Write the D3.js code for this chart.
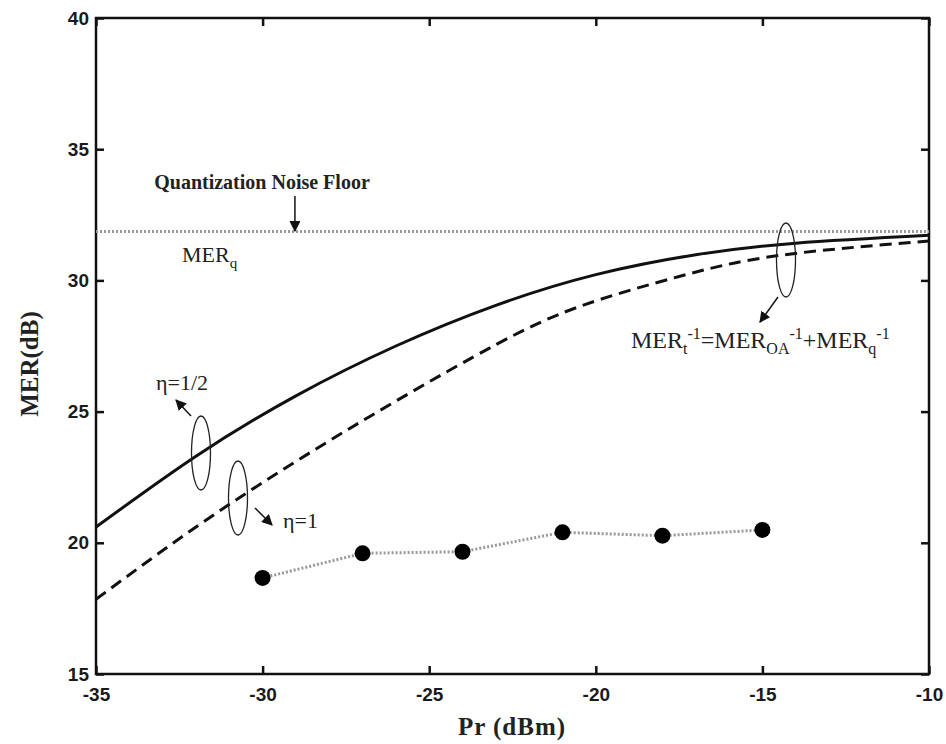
<!DOCTYPE html>
<html>
<head>
<meta charset="utf-8">
<script src="https://cdn.jsdelivr.net/npm/d3@7"></script>
<style>
  body { margin: 0; background: #fff; }
  svg { display: block; }
</style>
</head>
<body>
<div id="chart"></div>
<script>
// values
const halfEtaPr  = [-35, -32, -29, -26, -23, -20, -17, -14, -10];
const halfEtaMer = [20.6, 23.3, 25.6, 27.5, 29.05, 30.22, 30.98, 31.42, 31.72];

const oneEtaPr  = [-35, -32, -29, -26, -23, -20.5, -17.5, -14.5, -10];
const oneEtaMer = [17.85, 20.6, 23.1, 25.4, 27.55, 29.0, 30.15, 30.95, 31.5];

const measPr  = [-30, -27, -24, -21, -18, -15];
const measMer = [18.66, 19.6, 19.66, 20.4, 20.27, 20.49];

const noiseFloor = 31.86;

const xTicks = [-35, -30, -25, -20, -15, -10];
const yTicks = [15, 20, 25, 30, 35, 40];

const W = 946, H = 744;
const margin = { top: 18, right: 17, bottom: 70, left: 96 };

const svg = d3.select('#chart').append('svg')
    .attr('width', W)
    .attr('height', H);

const x = d3.scaleLinear().domain([-35, -10]).range([margin.left, W - margin.right]);
const y = d3.scaleLinear().domain([15, 40]).range([H - margin.bottom, margin.top]);

const serif = '"Liberation Serif", "Times New Roman", serif';
const sans = '"Liberation Sans", Arial, sans-serif';

svg.append('defs').append('marker')
    .attr('id', 'arrow')
    .attr('viewBox', '0 0 10 10')
    .attr('refX', 9).attr('refY', 5)
    .attr('markerWidth', 11).attr('markerHeight', 11)
    .attr('markerUnits', 'userSpaceOnUse')
    .attr('orient', 'auto')
    .append('path')
    .attr('d', 'M0,0 L10,5 L0,10 Z')
    .attr('fill', '#111');

// axes (ticks inward on all four sides)
function styleAxis(g) {
    g.select('.domain').remove();
    g.selectAll('.tick line').attr('stroke', '#111').attr('stroke-width', 2.5);
    g.selectAll('.tick text')
        .attr('fill', '#1a1a1a')
        .style('font-family', sans)
        .style('font-size', '19px')
        .style('font-weight', 'bold');
}

const fmt = d => String(d);

svg.append('g')
    .attr('transform', `translate(0,${y(15)})`)
    .call(d3.axisBottom(x).tickValues(xTicks).tickSize(-8).tickPadding(14).tickFormat(fmt))
    .call(styleAxis);

svg.append('g')
    .attr('transform', `translate(0,${y(40)})`)
    .call(d3.axisTop(x).tickValues(xTicks).tickSize(-8).tickFormat(''))
    .call(styleAxis);

svg.append('g')
    .attr('transform', `translate(${x(-35)},0)`)
    .call(d3.axisLeft(y).tickValues(yTicks).tickSize(-8).tickPadding(7).tickFormat(fmt))
    .call(styleAxis);

svg.append('g')
    .attr('transform', `translate(${x(-10)},0)`)
    .call(d3.axisRight(y).tickValues(yTicks).tickSize(-8).tickFormat(''))
    .call(styleAxis);

// frame
svg.append('rect')
    .attr('x', x(-35)).attr('y', y(40))
    .attr('width', x(-10) - x(-35))
    .attr('height', y(15) - y(40))
    .attr('fill', 'none')
    .attr('stroke', '#111')
    .attr('stroke-width', 2.5);

// noise floor
svg.append('line')
    .attr('x1', x(-35)).attr('x2', x(-10))
    .attr('y1', y(noiseFloor)).attr('y2', y(noiseFloor))
    .attr('stroke', '#999')
    .attr('stroke-width', 3)
    .attr('stroke-dasharray', '2,2');

const line = d3.line()
    .x(d => x(d[0]))
    .y(d => y(d[1]))
    .curve(d3.curveNatural);

svg.append('path')
    .datum(d3.zip(oneEtaPr, oneEtaMer))
    .attr('d', line)
    .attr('fill', 'none')
    .attr('stroke', '#111')
    .attr('stroke-width', 3)
    .attr('stroke-dasharray', '12,7');

svg.append('path')
    .datum(d3.zip(halfEtaPr, halfEtaMer))
    .attr('d', line)
    .attr('fill', 'none')
    .attr('stroke', '#111')
    .attr('stroke-width', 3);

// measured points
const meas = d3.zip(measPr, measMer);
svg.append('path')
    .datum(meas)
    .attr('d', d3.line().x(d => x(d[0])).y(d => y(d[1])))
    .attr('fill', 'none')
    .attr('stroke', '#999')
    .attr('stroke-width', 3)
    .attr('stroke-dasharray', '2,2');

svg.selectAll('.pt')
    .data(meas)
    .enter()
    .append('circle')
    .attr('class', 'pt')
    .attr('cx', d => x(d[0]))
    .attr('cy', d => y(d[1]))
    .attr('r', 8)
    .attr('fill', '#000');

// annotations
function arrow(x1, y1, x2, y2) {
    svg.append('line')
        .attr('x1', x1).attr('y1', y1).attr('x2', x2).attr('y2', y2)
        .attr('stroke', '#111').attr('stroke-width', 1.5)
        .attr('marker-end', 'url(#arrow)');
}
function ellipse(cx, cy) {
    svg.append('ellipse')
        .attr('cx', cx).attr('cy', cy)
        .attr('rx', 9.5).attr('ry', 37)
        .attr('fill', 'none')
        .attr('stroke', '#222')
        .attr('stroke-width', 1.3);
}
function label(tx, ty, size) {
    return svg.append('text')
        .attr('x', tx).attr('y', ty)
        .style('font-family', serif)
        .style('font-size', size + 'px')
        .attr('fill', '#222');
}

label(262, 189, 20)
    .attr('text-anchor', 'middle')
    .style('font-weight', 'bold')
    .text('Quantization Noise Floor');
arrow(x(-29.03), 196, x(-29.03), 231);

const merq = label(182, 262, 22);
merq.append('tspan').text('MER');
merq.append('tspan').attr('y', 268).style('font-size', '15px').text('q');

ellipse(201, 453);
arrow(191, 416, 176, 400);
label(156, 390, 22).text('η=1/2');

ellipse(238, 498);
arrow(255, 508, 272, 525);
label(283, 528, 22).text('η=1');

ellipse(786, 260);
arrow(778, 297, 760, 322);
const fy = 348;
const formula = label(631, fy, 24);
[['MER', 't'], ['=MER', 'OA'], ['+MER', 'q']].forEach(([base, sub]) => {
    formula.append('tspan').attr('y', fy).text(base);
    formula.append('tspan').attr('y', fy + 6).style('font-size', '16px').text(sub);
    formula.append('tspan').attr('y', fy - 9).style('font-size', '16px').text('-1');
});

// axis labels
svg.append('text')
    .attr('transform', `translate(38,${364}) rotate(-90)`)
    .attr('text-anchor', 'middle')
    .style('font-family', serif)
    .style('font-size', '25px')
    .style('font-weight', 'bold')
    .attr('fill', '#222')
    .text('MER(dB)');

svg.append('text')
    .attr('x', 512).attr('y', 735)
    .attr('text-anchor', 'middle')
    .style('font-family', serif)
    .style('font-size', '25px')
    .style('font-weight', 'bold')
    .style('letter-spacing', '1px')
    .attr('fill', '#222')
    .text('Pr (dBm)');
</script>
</body>
</html>
